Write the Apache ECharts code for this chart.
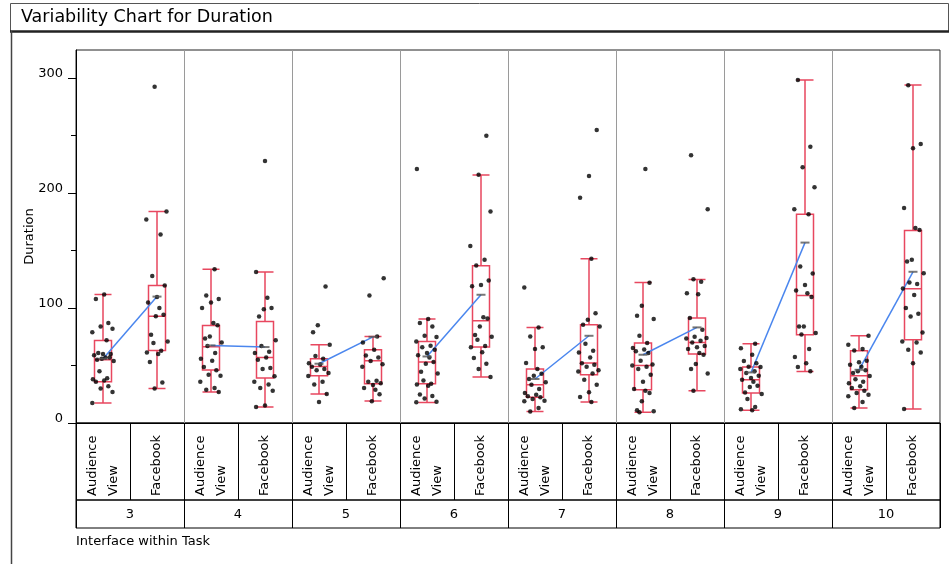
<!DOCTYPE html>
<html>
<head>
<meta charset="utf-8">
<script src="https://cdn.jsdelivr.net/npm/echarts@6/dist/echarts.min.js"></script>
<style>html,body{margin:0;padding:0;background:#fff;}#c{width:949px;height:564px;}</style>
</head>
<body>
<div id="c"></div>
<script>
// ---- data ----
const tasks = ['3', '4', '5', '6', '7', '8', '9', '10'];
const interfaces = ['Audience\nView', 'Facebook'];
const yTicks = [0, 100, 200, 300];
const yMinorTicks = [50, 150, 250];

// box statistics per cell (Task x Interface), order: 3AV,3FB,4AV,4FB,...
const whiskerLow  = [17.4, 30.1, 27, 13.9, 25.2, 19.1, 17.9, 40, 10.1, 18.3, 9.3, 28.1, 11, 44.9, 13, 12.2];
const quart1      = [35.9, 63.2, 46.1, 39.1, 41.1, 34.2, 34.2, 66.1, 22.3, 42, 29, 60, 26.1, 76.8, 29, 72.4];
const medians     = [55, 93, 66.3, 57.1, 49.2, 54.2, 53, 89, 33.3, 52.2, 50.1, 70.1, 37.7, 111, 41.1, 116.8];
const quart3      = [71.8, 119.7, 84.9, 88.4, 55.9, 63.7, 71, 136.8, 47, 85.5, 69.6, 91.3, 48.7, 181.7, 62.9, 167.5];
const whiskerHigh = [111.8, 184, 133.9, 131.3, 68.1, 75.3, 90.4, 215.9, 83.2, 142.9, 122.3, 124.9, 69, 298.5, 75.9, 294.2];
const means       = [56, 110, 67.5, 66.1, 51.6, 75, 57.9, 111.6, 38.3, 75.9, 59.4, 83.2, 44, 157, 46.3, 131.6];

// individual durations per cell
const av3 = [111.8, 108, 87, 84, 82, 79, 72, 61, 60, 60, 59, 57, 57, 56, 55, 54, 45, 39, 38, 37, 36, 32, 30, 27, 17.4];
const fb3 = [292.7, 184, 177, 164, 128, 119.7, 109.6, 104.9, 100, 94.2, 93, 76.8, 71, 69.6, 62.9, 61.4, 60, 53, 35.3, 30.1];
const av4 = [133.9, 111, 108, 104.9, 100, 87, 85, 75.3, 73.6, 70, 66.9, 60.9, 55.9, 54.2, 48.7, 45.8, 42, 41.2, 35.9, 30.4, 29, 27];
const fb4 = [228, 131.3, 109, 100, 99, 92.6, 72, 67, 62, 61, 57, 55, 47.8, 47, 40.6, 35.9, 33.6, 30.4, 28, 15.3, 13.9];
const av5 = [118.8, 85, 79, 68, 58.4, 56, 52, 51, 49, 47, 45.8, 43.5, 41, 36, 33.4, 25.2, 18.3];
const fb5 = [126, 111, 75.3, 70, 63.7, 58.8, 57, 54, 51.2, 49, 36.8, 36, 34.5, 33, 30.4, 29, 25, 19];
const av6 = [221, 90.4, 87, 84, 75.9, 74.8, 71, 67.2, 66, 63.7, 61, 59, 57, 53, 51.6, 44.6, 43.1, 37, 34.2, 33.4, 32.5, 24.9, 23.5, 21.4, 18.5, 18];
const fb6 = [250, 216, 184, 154, 142, 137, 124, 120, 119, 92, 91, 84, 76.5, 75, 72.5, 67, 66, 61.6, 56.5, 51.6, 47, 40];
const av7 = [118, 83, 75.3, 66, 64.4, 52.2, 47, 42.9, 41.2, 38.3, 35.4, 33.3, 29.6, 26, 24.6, 23.2, 22.3, 20.9, 19.4, 19, 13, 10.1];
const fb7 = [255, 215, 196, 143, 95.6, 89.8, 85.5, 84, 69, 62.9, 61.4, 57, 52, 50.7, 49, 45.8, 44.9, 43, 37.7, 33.3, 26.7, 22.6, 18.3];
const av8 = [221, 122, 102, 93.3, 90.4, 76, 69.6, 65.2, 64, 62.5, 61, 54.2, 51, 50, 49, 47, 42, 36, 29.5, 28, 26, 19, 11, 10.2, 9.3];
const fb8 = [233, 186, 125, 123, 113, 112, 91.3, 81.1, 75, 74, 73.5, 71.6, 70, 67, 66, 64.4, 61, 59.5, 51.3, 47, 43.1, 28];
const av9 = [69, 65, 59.4, 54, 52, 49, 48.7, 47, 45, 43.5, 41.2, 39.1, 37.7, 36, 32.5, 31.4, 26.6, 25.2, 20.9, 13.9, 12, 11];
const fb9 = [298.5, 240.5, 222.6, 205.2, 186, 181.7, 136.2, 130.1, 120, 115.3, 113, 109.6, 84, 84, 78.3, 77, 64.3, 57.4, 52, 48.7, 45];
const av10 = [76, 68.1, 64.4, 63, 54.2, 52.8, 50.7, 49, 46, 45, 43.5, 41, 38, 36, 34.5, 31.9, 30.4, 28, 26, 24.6, 23.2, 18.3, 13];
const fb10 = [294, 242.9, 239.1, 187, 169.6, 168, 142, 140.6, 130.4, 122.3, 121, 117, 111.3, 100, 95, 92.6, 78.8, 71, 70, 63.7, 61.4, 52, 12.2];

const cells = [av3, fb3, av4, fb4, av5, fb5, av6, fb6, av7, fb7, av8, fb8, av9, fb9, av10, fb10];

// ---- build chart ----
const FONT = 'DejaVu Sans';
const cellLabels = [];
tasks.forEach(() => interfaces.forEach(s => cellLabels.push(s)));
const nCells = cellLabels.length;

// fixed horizontal jitter pattern (display only)
const jitterPattern = [0.1, -0.6, 0.45, -0.2, 0.8, -0.9, 0.3, -0.4, 0.65, 0, -0.75, 0.2, 0.55, -0.1, -0.5, 0.9, -0.3, 0.35, -0.85];
const JIT = 0.22;

const pointData = [];
cells.forEach((vals, ci) => {
  vals.forEach((v, k) => {
    const j = jitterPattern[(k + ci * 3) % jitterPattern.length] * JIT;
    pointData.push([ci + 0.5 + j, v]);
  });
});

const boxData = cells.map((_, i) => [whiskerLow[i], quart1[i], medians[i], quart3[i], whiskerHigh[i]]);
const meanData = means.map((m, i) => [i + 0.5, m]);

const series = [
  {
    type: 'boxplot', xAxisIndex: 0, yAxisIndex: 0, data: boxData,
    boxWidth: [17, 17], silent: true, z: 2,
    itemStyle: { color: 'rgba(0,0,0,0)', borderColor: '#e8475f', borderWidth: 1.5 },
    emphasis: { disabled: true }
  }
];
tasks.forEach((t, g) => {
  series.push({
    type: 'line', xAxisIndex: 2, yAxisIndex: 0, silent: true, z: 3,
    data: [[2 * g + 0.5, means[2 * g]], [2 * g + 1.5, means[2 * g + 1]]],
    showSymbol: false, symbol: 'none',
    lineStyle: { color: '#4a86ee', width: 1.5 }
  });
});
series.push({
  type: 'scatter', xAxisIndex: 2, yAxisIndex: 0, data: pointData, silent: true, z: 4,
  symbolSize: 4.5, itemStyle: { color: '#000' }
});
series.push({
  type: 'scatter', xAxisIndex: 2, yAxisIndex: 0, data: meanData, silent: true, z: 5,
  symbol: 'rect', symbolSize: [9, 2], itemStyle: { color: '#555' }
});
// empty series so the table grids are laid out
series.push({ type: 'scatter', xAxisIndex: 3, yAxisIndex: 2, data: [], silent: true });
series.push({ type: 'scatter', xAxisIndex: 4, yAxisIndex: 3, data: [], silent: true });

const hiddenValueY = (gi) => ({ type: 'value', gridIndex: gi, min: 0, max: 1, show: false });

const option = {
  animation: false,
  backgroundColor: '#fff',
  title: [
    { text: 'Variability Chart for Duration', left: 21, top: 8, padding: 0,
      textStyle: { fontFamily: FONT, fontSize: 17.5, fontWeight: 'normal', color: '#000' } },
    { text: 'Interface within Task', left: 76, top: 535, padding: 0,
      textStyle: { fontFamily: FONT, fontSize: 13, fontWeight: 'normal', color: '#000' } }
  ],
  graphic: [
    { type: 'rect', silent: true, shape: { x: 10.5, y: 3.5, width: 938, height: 28 }, style: { fill: 'none', stroke: '#555', lineWidth: 1 } },
    { type: 'line', silent: true, shape: { x1: 10, y1: 31.5, x2: 949, y2: 31.5 }, style: { stroke: '#222', lineWidth: 2.5 } },
    { type: 'line', silent: true, shape: { x1: 11.5, y1: 31, x2: 11.5, y2: 564 }, style: { stroke: '#444', lineWidth: 1.5 } }
  ],
  grid: [
    { left: 76, right: 9, top: 50, height: 373, show: true, borderColor: '#222', borderWidth: 1, backgroundColor: 'transparent' },
    { left: 76, right: 9, top: 423, height: 77, show: true, borderColor: '#000', borderWidth: 1, backgroundColor: 'transparent' },
    { left: 76, right: 9, top: 500, height: 28, show: true, borderColor: '#000', borderWidth: 1, backgroundColor: 'transparent' }
  ],
  xAxis: [
    // 0: cell categories (boxplot + interface labels)
    { type: 'category', data: cellLabels, position: 'bottom', gridIndex: 0,
      axisLine: { show: true, lineStyle: { color: '#000', width: 1 } },
      axisTick: { show: false },
      axisLabel: { interval: 0, rotate: 90, margin: 73, align: 'left', verticalAlign: 'middle',
        fontFamily: FONT, fontSize: 13, lineHeight: 21, color: '#000' },
      splitLine: { show: false } },
    // 1: task labels
    { type: 'category', data: tasks, position: 'bottom', gridIndex: 0, offset: 77,
      axisLine: { show: false }, axisTick: { show: false },
      axisLabel: { interval: 0, margin: 8, fontFamily: FONT, fontSize: 13, color: '#000' },
      splitLine: { show: false } },
    // 2: value axis for points / means; splitLines separate tasks
    { type: 'value', min: 0, max: nCells, interval: 2, position: 'top', gridIndex: 0,
      axisLine: { show: false }, axisTick: { show: false }, axisLabel: { show: false },
      splitLine: { show: true, lineStyle: { color: '#9a9a9a', width: 1 } } },
    // 3: interface row cell dividers
    { type: 'value', min: 0, max: nCells, interval: 1, position: 'bottom', gridIndex: 1,
      axisLine: { show: false }, axisTick: { show: false }, axisLabel: { show: false },
      splitLine: { show: true, lineStyle: { color: '#000', width: 1 } } },
    // 4: task row cell dividers
    { type: 'value', min: 0, max: nCells, interval: 2, position: 'bottom', gridIndex: 2,
      axisLine: { show: false }, axisTick: { show: false }, axisLabel: { show: false },
      splitLine: { show: true, lineStyle: { color: '#000', width: 1 } } }
  ],
  yAxis: [
    { type: 'value', min: 0, max: 324.6, interval: 100, position: 'left', gridIndex: 0,
      name: 'Duration', nameLocation: 'middle', nameGap: 40, nameRotate: 90, nameMoveOverlap: false,
      nameTextStyle: { fontFamily: FONT, fontSize: 13, color: '#000' },
      axisLine: { show: true, lineStyle: { color: '#000' } },
      axisTick: { show: true, length: 8, customValues: yTicks, lineStyle: { color: '#000' } },
      axisLabel: { customValues: yTicks, margin: 13, verticalAlign: 'bottom', lineHeight: 9,
        fontFamily: FONT, fontSize: 13, color: '#000' },
      splitLine: { show: false } },
    { type: 'value', min: 0, max: 324.6, interval: 50, position: 'left', gridIndex: 0,
      axisLine: { show: false },
      axisTick: { show: true, length: 5, customValues: yMinorTicks, lineStyle: { color: '#000' } },
      axisLabel: { show: false }, splitLine: { show: false } },
    hiddenValueY(1),
    hiddenValueY(2)
  ],
  series: series
};

const chart = echarts.init(document.getElementById('c'), null, { renderer: 'canvas' });
chart.setOption(option);
</script>
</body>
</html>
